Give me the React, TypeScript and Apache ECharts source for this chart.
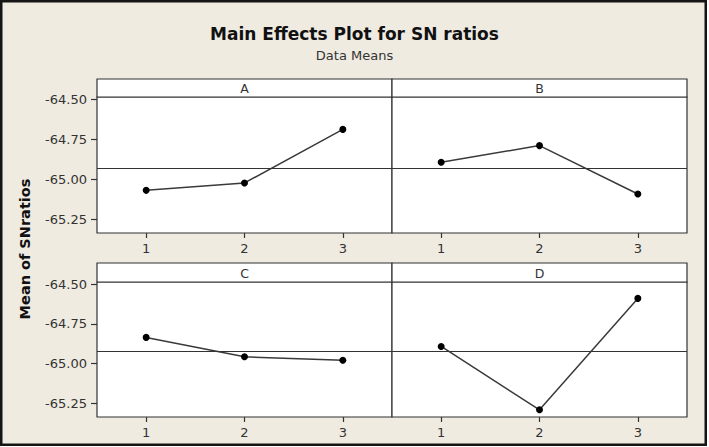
import React, { useEffect, useRef } from "react";
import * as echarts from "echarts";

const levels = [1, 2, 3];
const factorNames = ["A", "B", "C", "D"];
const meansA = [-65.069, -65.023, -64.689];
const meansB = [-64.894, -64.79, -65.092];
const meansC = [-64.835, -64.957, -64.978];
const meansD = [-64.892, -65.29, -64.59];
const yTickValues = [-64.5, -64.75, -65.0, -65.25];
const titleText = "Main Effects Plot for SN ratios";
const subtitleText = "Data Means";
const yAxisTitle = "Mean of SNratios";

const seriesValues = [meansA, meansB, meansC, meansD];

const BG = "#EFEBE1";
const INK = "#333333";
const LABEL = "#333333";
const FONT = "DejaVu Sans";

// panel layout
const panelLeft = [97, 392, 97, 392];
const panelTop = [97, 97, 282, 282];
const headerTop = [79, 79, 263, 263];
const panelW = 295;
const panelH = [136, 136, 135, 135];

export default function App() {
  const ref = useRef<HTMLDivElement>(null);
  useEffect(() => {
    if (!ref.current) return;
    const chart = echarts.init(ref.current, null, { renderer: "svg" });

    const grids = factorNames.map((_, i) => ({
      left: panelLeft[i],
      top: panelTop[i],
      width: panelW,
      height: panelH[i],
      show: true,
      backgroundColor: "#ffffff",
      borderColor: INK,
      borderWidth: 1.2,
      containLabel: false,
    }));

    const xAxes = factorNames.map((_, i) => ({
      gridIndex: i,
      type: "value",
      min: 0.5,
      max: 3.5,
      axisLine: { show: false },
      splitLine: { show: false },
      axisTick: {
        show: true,
        customValues: levels,
        length: 5,
        lineStyle: { color: INK, width: 1.2 },
      },
      axisLabel: {
        show: true,
        customValues: levels,
        margin: 9,
        fontSize: 13,
        fontFamily: FONT,
        color: LABEL,
      },
    }));

    const yAxes = factorNames.map((_, i) => ({
      gridIndex: i,
      type: "value",
      min: -65.335,
      max: -64.487,
      axisLine: { show: false },
      splitLine: { show: false },
      axisTick: {
        show: i % 2 === 0,
        customValues: yTickValues,
        length: 6,
        lineStyle: { color: INK, width: 1.2 },
      },
      axisLabel: {
        show: i % 2 === 0,
        customValues: yTickValues,
        formatter: (v: number) => v.toFixed(2),
        margin: 10,
        fontSize: 13,
        fontFamily: FONT,
        color: LABEL,
      },
    }));

    const series = factorNames.map((name, i) => {
      const vals = seriesValues[i];
      const mean = vals.reduce((a, b) => a + b, 0) / vals.length;
      return {
        name,
        type: "line",
        xAxisIndex: i,
        yAxisIndex: i,
        data: levels.map((l, j) => [l, vals[j]]),
        symbol: "circle",
        symbolSize: 7,
        itemStyle: { color: "#000000" },
        lineStyle: { color: "#3a3a3a", width: 1.5 },
        markLine: {
          silent: true,
          symbol: "none",
          label: { show: false },
          lineStyle: { color: INK, width: 1.2, type: "solid" },
          data: [{ yAxis: mean }],
        },
        z: 3,
      };
    });

    const graphics: any[] = [
      {
        type: "rect",
        z: -10,
        shape: { x: 1.25, y: 1.25, width: 704.5, height: 443.5 },
        style: { fill: BG, stroke: "#151515", lineWidth: 2.5 },
      },
      {
        type: "text",
        x: 25,
        y: 249,
        rotation: Math.PI / 2,
        style: {
          text: yAxisTitle,
          font: `bold 14.5px "${FONT}"`,
          fill: "#111111",
          textAlign: "center",
          textVerticalAlign: "middle",
        },
      },
    ];
    factorNames.forEach((name, i) => {
      const hh = panelTop[i] - headerTop[i];
      graphics.push({
        type: "rect",
        z: 5,
        shape: { x: panelLeft[i], y: headerTop[i], width: panelW, height: hh },
        style: { fill: "#ffffff", stroke: INK, lineWidth: 1.2 },
      });
      graphics.push({
        type: "text",
        z: 6,
        x: panelLeft[i] + panelW / 2,
        y: headerTop[i] + hh / 2 + 0.5,
        style: {
          text: name,
          font: `12.5px "${FONT}"`,
          fill: LABEL,
          textAlign: "center",
          textVerticalAlign: "middle",
        },
      });
    });

    chart.setOption({
      animation: false,
      backgroundColor: "#ffffff",
      title: [
        {
          text: titleText,
          left: "center",
          top: 20,
          textStyle: {
            fontFamily: FONT,
            fontWeight: "bold",
            fontSize: 17,
            color: "#111111",
          },
        },
        {
          text: subtitleText,
          left: "center",
          top: 44,
          textStyle: {
            fontFamily: FONT,
            fontWeight: "normal",
            fontSize: 13,
            color: LABEL,
          },
        },
      ],
      grid: grids,
      xAxis: xAxes,
      yAxis: yAxes,
      series,
      graphic: graphics,
    });

    return () => chart.dispose();
  }, []);

  return (
    <div
      ref={ref}
      style={{ position: "fixed", left: 0, top: 0, width: 709, height: 447 }}
    />
  );
}
